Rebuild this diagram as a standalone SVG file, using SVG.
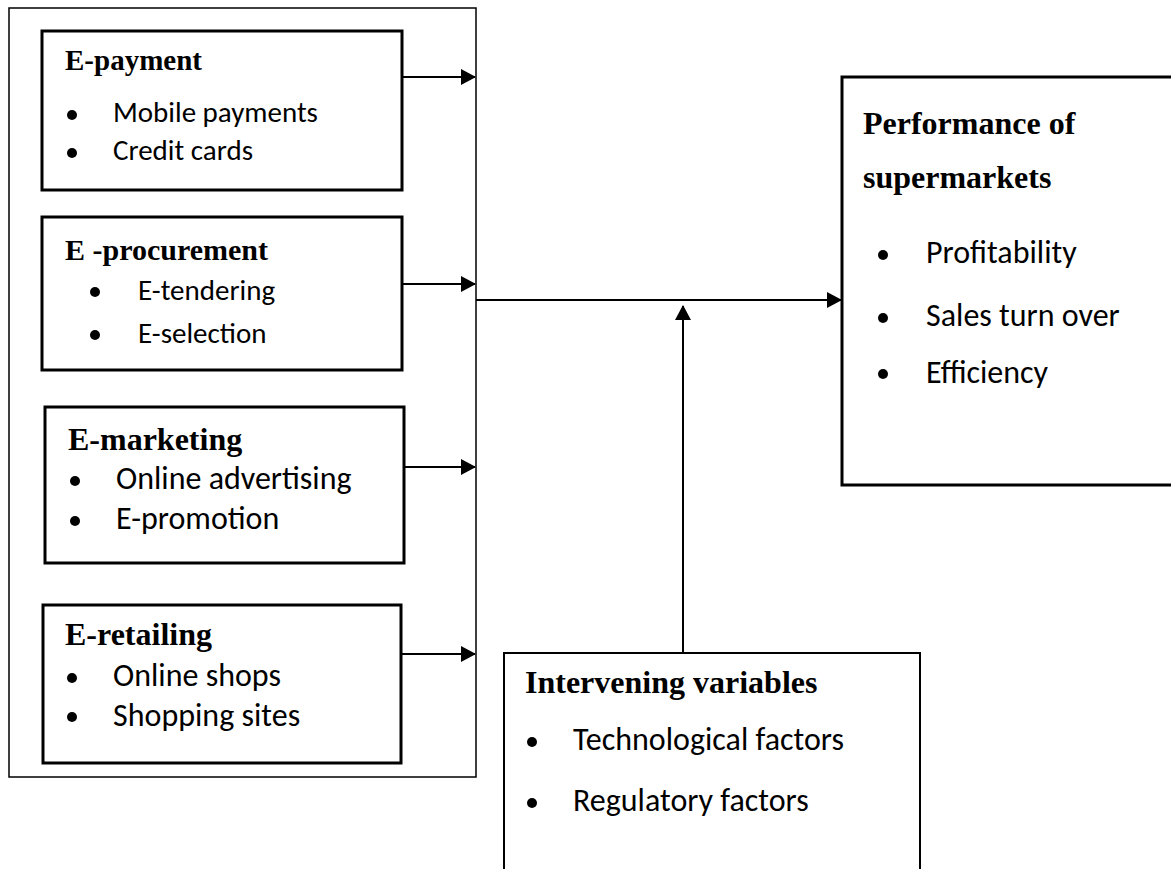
<svg xmlns="http://www.w3.org/2000/svg" width="1171" height="869" viewBox="0 0 1171 869">
<style>
.box{fill:#fff;stroke:#000;stroke-width:3}
.thin{fill:none;stroke:#000;stroke-width:1.5}
.ibox{fill:#fff;stroke:#000;stroke-width:2}
.t{font-family:"Liberation Serif","Times New Roman",serif;font-weight:bold;font-size:29px;fill:#000}
.tb{font-family:"Liberation Serif","Times New Roman",serif;font-weight:bold;font-size:32px;fill:#000}
.b{font-family:Carlito,Calibri,Lato,"Open Sans",sans-serif;font-size:29px;fill:#000}
.bl{font-family:Carlito,Calibri,Lato,"Open Sans",sans-serif;font-size:32px;fill:#000}
.dot{fill:#000}
.conn{fill:none;stroke:#000;stroke-width:2}
</style>
<defs>
<marker id="ah" markerWidth="15" markerHeight="16" refX="14" refY="8" orient="auto" markerUnits="userSpaceOnUse">
<path d="M0,0 L15,8 L0,16 Z" fill="#000"/>
</marker>
</defs>
<rect width="1171" height="869" fill="#fff"/>
<g id="container">
<rect class="thin" x="9" y="8" width="467" height="769"/>
</g>
<g id="epayment">
<rect class="box" x="42" y="31" width="360" height="159"/>
<text class="t" x="65" y="70">E-payment</text>
<circle class="dot" cx="72" cy="115" r="5"/>
<text class="b" x="113" y="122">Mobile payments</text>
<circle class="dot" cx="72" cy="153" r="5"/>
<text class="b" x="113" y="160">Credit cards</text>
</g>
<g id="eprocurement">
<rect class="box" x="42" y="217" width="360" height="153"/>
<text class="t" x="65" y="260" style="font-size:30px">E -procurement</text>
<circle class="dot" cx="95" cy="292" r="5"/>
<text class="b" x="138" y="300">E-tendering</text>
<circle class="dot" cx="95" cy="335" r="5"/>
<text class="b" x="138" y="343">E-selection</text>
</g>
<g id="emarketing">
<rect class="box" x="45" y="407" width="359" height="156"/>
<text class="tb" x="68" y="450">E-marketing</text>
<circle class="dot" cx="75" cy="481" r="5"/>
<text class="bl" x="116" y="489">Online advertising</text>
<circle class="dot" cx="75" cy="521" r="5"/>
<text class="bl" x="116" y="529">E-promotion</text>
</g>
<g id="eretailing">
<rect class="box" x="43" y="605" width="358" height="158"/>
<text class="tb" x="65" y="645">E-retailing</text>
<circle class="dot" cx="72" cy="678" r="5"/>
<text class="bl" x="113" y="686">Online shops</text>
<circle class="dot" cx="72" cy="717" r="5"/>
<text class="bl" x="113" y="726">Shopping sites</text>
</g>
<g id="performance">
<rect class="box" x="842" y="77" width="340" height="408"/>
<text class="tb" x="863" y="134">Performance of</text>
<text class="tb" x="863" y="188">supermarkets</text>
<circle class="dot" cx="883" cy="255" r="5"/>
<text class="bl" x="926" y="263">Profitability</text>
<circle class="dot" cx="883" cy="318" r="5"/>
<text class="bl" x="926" y="326">Sales turn over</text>
<circle class="dot" cx="883" cy="374" r="5"/>
<text class="bl" x="926" y="383">Efficiency</text>
</g>
<g id="intervening">
<rect class="ibox" x="504" y="653" width="416" height="230"/>
<text class="tb" x="525" y="693">Intervening variables</text>
<circle class="dot" cx="532" cy="742" r="5"/>
<text class="bl" x="573" y="750">Technological factors</text>
<circle class="dot" cx="532" cy="803" r="5"/>
<text class="bl" x="573" y="811">Regulatory factors</text>
</g>
<g id="connectors">
<line class="conn" x1="402" y1="77" x2="475" y2="77" marker-end="url(#ah)"/>
<line class="conn" x1="402" y1="284" x2="475" y2="284" marker-end="url(#ah)"/>
<line class="conn" x1="404" y1="467" x2="475" y2="467" marker-end="url(#ah)"/>
<line class="conn" x1="401" y1="654" x2="475" y2="654" marker-end="url(#ah)"/>
<line class="conn" x1="476" y1="300" x2="841" y2="300" marker-end="url(#ah)"/>
<line class="conn" x1="683" y1="653" x2="683" y2="306" marker-end="url(#ah)"/>
</g>
</svg>
